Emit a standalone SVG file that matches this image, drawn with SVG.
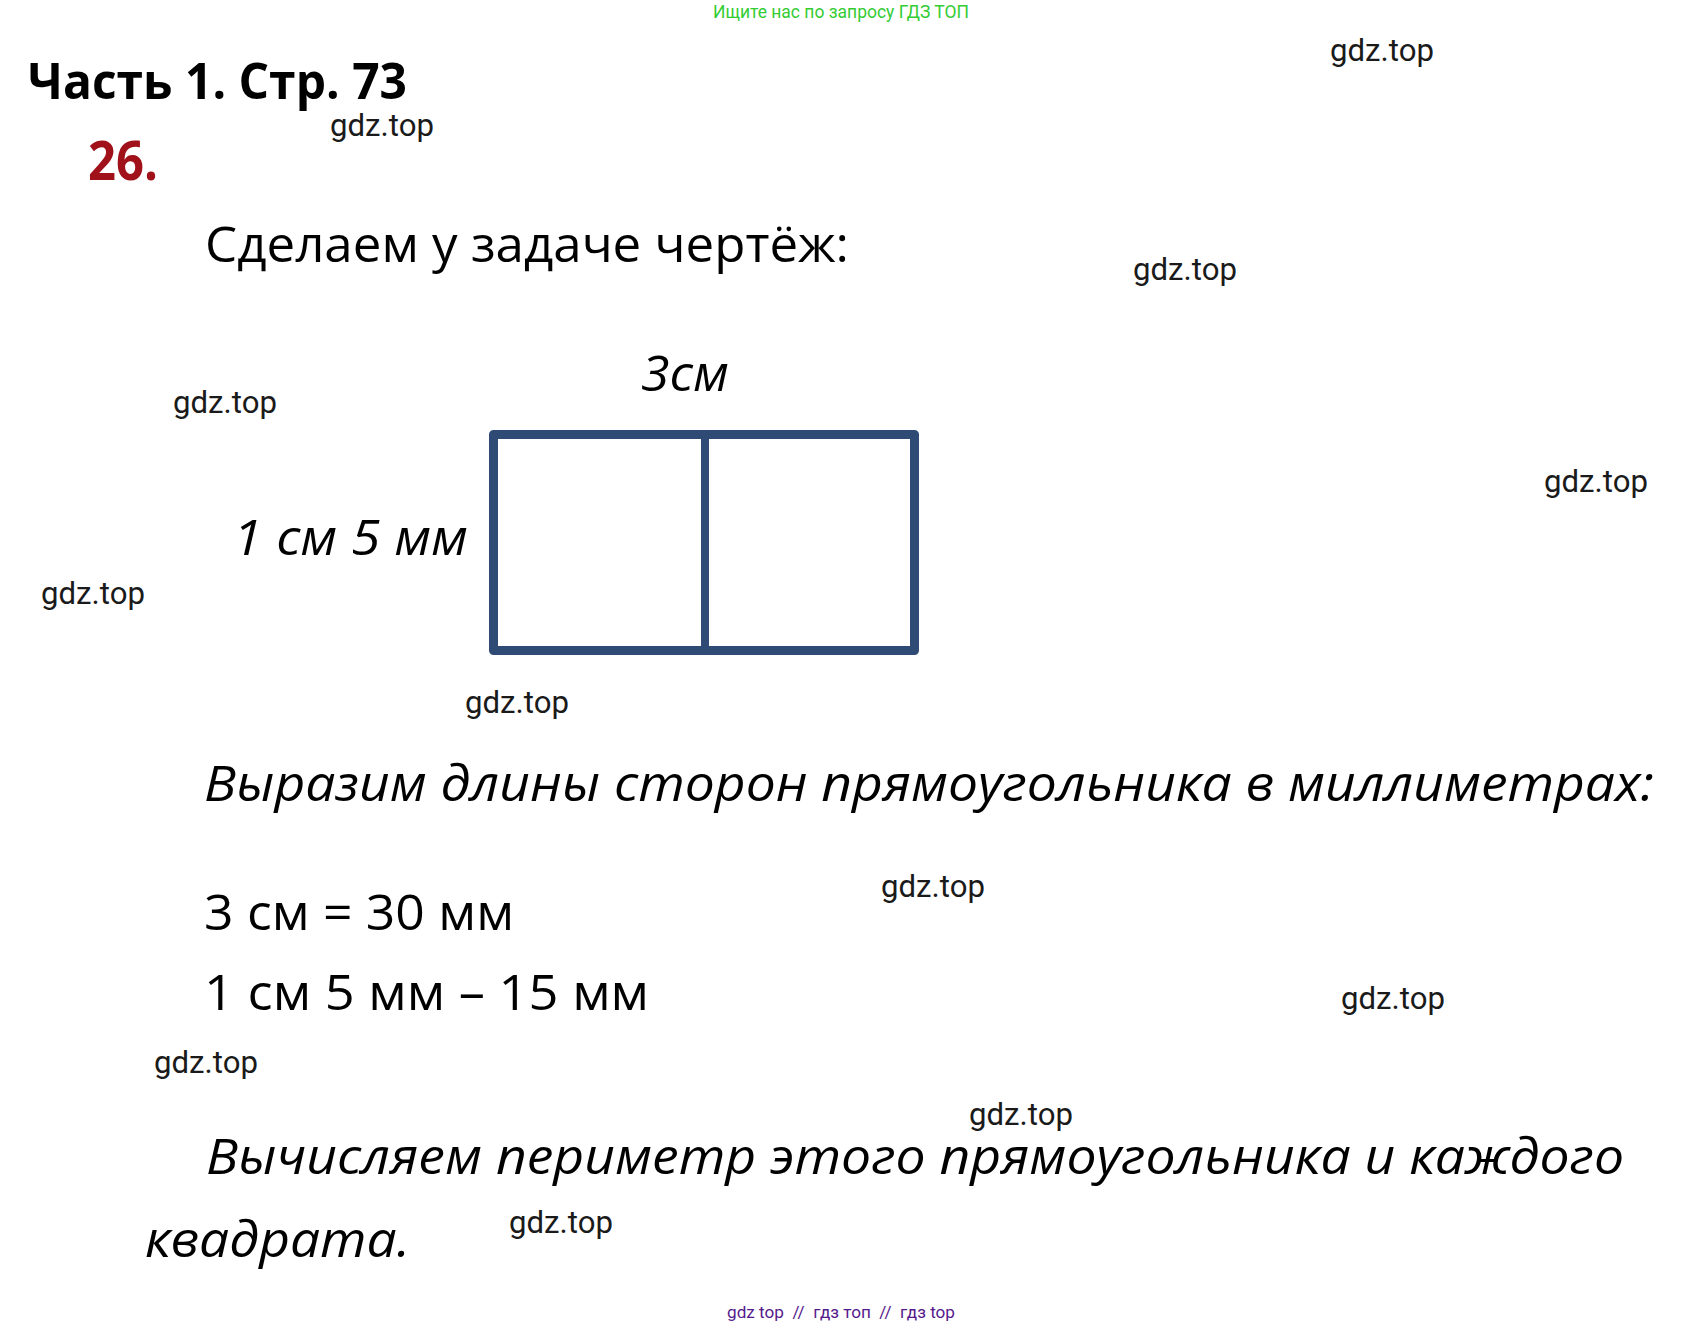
<svg xmlns="http://www.w3.org/2000/svg" width="1684" height="1328" viewBox="0 0 1684 1328">
<style>
.wm{font-family:Roboto,"Noto Sans",sans-serif;font-size:31px;fill:#1a1a1a}
.body{font-family:"Open Sans","Noto Sans",sans-serif;font-size:50px;fill:#000}
.it{font-style:italic}
.fig{fill:none;stroke:#2f4b75;stroke-linejoin:round;stroke-linecap:round}
</style>
<rect width="1684" height="1328" fill="#fff"/>
<g id="header">
<text x="713" y="18" font-family="Roboto,'Noto Sans',sans-serif" font-size="18" fill="#33cc33" textLength="256" lengthAdjust="spacingAndGlyphs">Ищите нас по запросу ГДЗ ТОП</text>
</g>
<g id="title">
<text x="28" y="99" font-family="'Open Sans','Noto Sans',sans-serif" font-weight="bold" font-size="50" fill="#000" textLength="379" lengthAdjust="spacingAndGlyphs">Часть 1. Стр. 73</text>
<text x="88" y="180" font-family="'Open Sans','Noto Sans',sans-serif" font-weight="bold" font-size="53" fill="#a0111a" textLength="70" lengthAdjust="spacingAndGlyphs">26.</text>
</g>
<g id="text-intro">
<text class="body" x="205" y="262" textLength="644" lengthAdjust="spacingAndGlyphs">Сделаем у задаче чертёж:</text>
</g>
<g id="figure">
<rect class="fig" x="493.5" y="434.5" width="421" height="216" stroke-width="9"/>
<line class="fig" x1="705" y1="434.5" x2="705" y2="650.5" stroke-width="8"/>
<text class="body it" x="641" y="391" textLength="88" lengthAdjust="spacingAndGlyphs">3см</text>
<text class="body it" x="233" y="555" textLength="235" lengthAdjust="spacingAndGlyphs">1 см 5 мм</text>
</g>
<g id="text-body">
<text class="body it" x="204" y="801" textLength="1450" lengthAdjust="spacingAndGlyphs">Выразим длины сторон прямоугольника в миллиметрах:</text>
<text class="body" x="204" y="930" textLength="310" lengthAdjust="spacingAndGlyphs">3 см = 30 мм</text>
<text class="body" x="204" y="1010" textLength="445" lengthAdjust="spacingAndGlyphs">1 см 5 мм – 15 мм</text>
<text class="body it" x="206" y="1174" textLength="1418" lengthAdjust="spacingAndGlyphs">Вычисляем периметр этого прямоугольника и каждого</text>
<text class="body it" x="145" y="1257" textLength="265" lengthAdjust="spacingAndGlyphs">квадрата.</text>
</g>
<g id="watermarks">
<text class="wm" x="1330" y="61" textLength="104" lengthAdjust="spacingAndGlyphs">gdz.top</text>
<text class="wm" x="330" y="136" textLength="104" lengthAdjust="spacingAndGlyphs">gdz.top</text>
<text class="wm" x="1133" y="280" textLength="104" lengthAdjust="spacingAndGlyphs">gdz.top</text>
<text class="wm" x="173" y="413" textLength="104" lengthAdjust="spacingAndGlyphs">gdz.top</text>
<text class="wm" x="1544" y="492" textLength="104" lengthAdjust="spacingAndGlyphs">gdz.top</text>
<text class="wm" x="41" y="604" textLength="104" lengthAdjust="spacingAndGlyphs">gdz.top</text>
<text class="wm" x="465" y="713" textLength="104" lengthAdjust="spacingAndGlyphs">gdz.top</text>
<text class="wm" x="881" y="897" textLength="104" lengthAdjust="spacingAndGlyphs">gdz.top</text>
<text class="wm" x="1341" y="1009" textLength="104" lengthAdjust="spacingAndGlyphs">gdz.top</text>
<text class="wm" x="154" y="1073" textLength="104" lengthAdjust="spacingAndGlyphs">gdz.top</text>
<text class="wm" x="969" y="1125" textLength="104" lengthAdjust="spacingAndGlyphs">gdz.top</text>
<text class="wm" x="509" y="1233" textLength="104" lengthAdjust="spacingAndGlyphs">gdz.top</text>
</g>
<g id="footer">
<text x="727" y="1318" font-family="Roboto,'Noto Sans',sans-serif" font-size="16" fill="#551a8b" textLength="228" lengthAdjust="spacingAndGlyphs" xml:space="preserve">gdz top  //  гдз топ  //  гдз top</text>
</g>
</svg>
